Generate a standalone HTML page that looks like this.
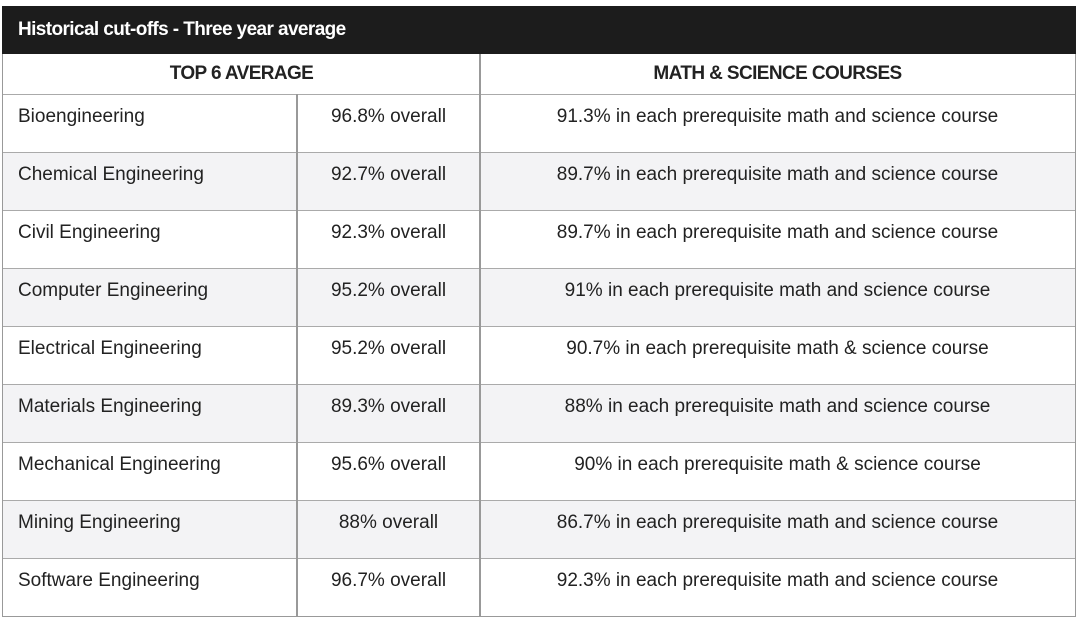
<!DOCTYPE html>
<html><head><meta charset="utf-8"><style>
body{margin:0;width:1080px;height:623px;background:#fff;font-family:"Liberation Sans",sans-serif;position:relative;overflow:hidden}
.t{position:absolute;left:2px;top:6px;width:1074px;height:611px;border:1px solid #999;box-sizing:border-box}
.hd{position:absolute;left:2px;top:6px;width:1074px;height:48px;background:#1c1c1c;color:#fff;font-weight:bold;font-size:19px;line-height:48px;padding-left:16px;box-sizing:border-box;letter-spacing:-0.6px}
.row{position:absolute;left:3px;width:1072px;height:58px;border-top:1.5px solid #aaa;box-sizing:border-box}
.g{background:#f3f3f5}
.c{position:absolute;top:11px;font-size:19px;color:#222;white-space:nowrap}
.b{font-weight:bold;letter-spacing:-0.6px}
.vl{position:absolute;width:1.5px;background:#999}
</style></head><body>
<div class="t"></div>
<div class="hd">Historical cut-offs - Three year average</div>
<div class="row" style="top:54px;height:40px;border-top:none"><div class="c b" style="left:0;width:477px;text-align:center;top:9px">TOP 6 AVERAGE</div><div class="c b" style="left:477px;width:595px;text-align:center;top:9px">MATH &amp; SCIENCE COURSES</div></div>
<div class="row" style="top:94px"><div class="c" style="left:15px">Bioengineering</div><div class="c" style="left:294px;width:183px;text-align:center">96.8% overall</div><div class="c" style="left:477px;width:595px;text-align:center">91.3% in each prerequisite math and science course</div></div>
<div class="row g" style="top:152px"><div class="c" style="left:15px">Chemical Engineering</div><div class="c" style="left:294px;width:183px;text-align:center">92.7% overall</div><div class="c" style="left:477px;width:595px;text-align:center">89.7% in each prerequisite math and science course</div></div>
<div class="row" style="top:210px"><div class="c" style="left:15px">Civil Engineering</div><div class="c" style="left:294px;width:183px;text-align:center">92.3% overall</div><div class="c" style="left:477px;width:595px;text-align:center">89.7% in each prerequisite math and science course</div></div>
<div class="row g" style="top:268px"><div class="c" style="left:15px">Computer Engineering</div><div class="c" style="left:294px;width:183px;text-align:center">95.2% overall</div><div class="c" style="left:477px;width:595px;text-align:center">91% in each prerequisite math and science course</div></div>
<div class="row" style="top:326px"><div class="c" style="left:15px">Electrical Engineering</div><div class="c" style="left:294px;width:183px;text-align:center">95.2% overall</div><div class="c" style="left:477px;width:595px;text-align:center">90.7% in each prerequisite math &amp; science course</div></div>
<div class="row g" style="top:384px"><div class="c" style="left:15px">Materials Engineering</div><div class="c" style="left:294px;width:183px;text-align:center">89.3% overall</div><div class="c" style="left:477px;width:595px;text-align:center">88% in each prerequisite math and science course</div></div>
<div class="row" style="top:442px"><div class="c" style="left:15px">Mechanical Engineering</div><div class="c" style="left:294px;width:183px;text-align:center">95.6% overall</div><div class="c" style="left:477px;width:595px;text-align:center">90% in each prerequisite math &amp; science course</div></div>
<div class="row g" style="top:500px"><div class="c" style="left:15px">Mining Engineering</div><div class="c" style="left:294px;width:183px;text-align:center">88% overall</div><div class="c" style="left:477px;width:595px;text-align:center">86.7% in each prerequisite math and science course</div></div>
<div class="row" style="top:558px;height:58px"><div class="c" style="left:15px">Software Engineering</div><div class="c" style="left:294px;width:183px;text-align:center">96.7% overall</div><div class="c" style="left:477px;width:595px;text-align:center">92.3% in each prerequisite math and science course</div></div>
<div class="vl" style="left:296px;top:94px;height:522px"></div>
<div class="vl" style="left:479px;top:54px;height:562px"></div>
</body></html>
